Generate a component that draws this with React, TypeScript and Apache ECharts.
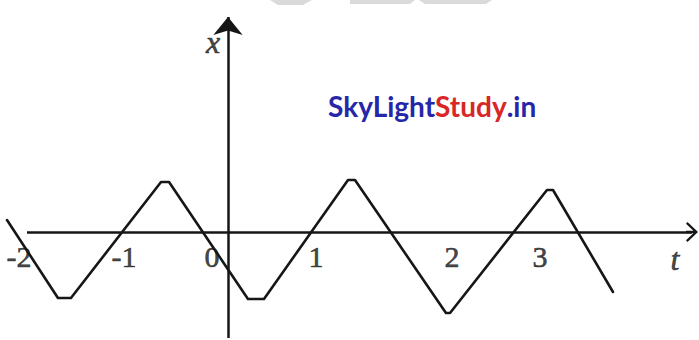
import { useEffect, useRef } from "react";
import * as echarts from "echarts";

// Displacement x(t) of the oscillation: corner points of the broken-line graph
const waveT = [-2.125, -1.635, -1.51, -0.644, -0.567, 0.192, 0.346, 1.154, 1.221, 2.096, 2.135, 3.067, 3.125, 3.702];
const waveX = [0.24, -1.32, -1.32, 1.0, 1.0, -1.34, -1.34, 1.04, 1.04, -1.62, -1.62, 0.84, 0.84, -1.2];

// Hand-placed tick labels along the t axis
const tickLabels = ["-2", "-1", "0", "1", "2", "3"];
const tickPositions = [-2.01, -1.0, -0.154, 0.846, 2.154, 3.0];

// Axis names and where they sit (t, x)
const axisNames = ["t", "x"];
const axisNameT = [4.298, -0.144];
const axisNameX = [-0.54, 3.8];

// Visible range of the plane
const tMin = -2.1923;
const tMax = 4.5288;
const xMin = -2.16;
const xMax = 4.64;

// Drawn axes: start and arrow-head centre
const tAxisFrom = -1.9327;
const tAxisTo = 4.4615;
const xAxisFrom = -2.12;
const xAxisTo = 4.3;

const INK = "#161616";
const SERIF = "'Liberation Serif', 'Times New Roman', serif";
const SANS = "Lato, 'Noto Sans', sans-serif";

export default function App() {
  const ref = useRef<HTMLDivElement>(null);

  useEffect(() => {
    document.body.style.margin = "0";
    document.body.style.overflow = "hidden";
    if (!ref.current) return;
    const chart = echarts.init(ref.current, null, { renderer: "svg" });

    // open chevron with a short stem so the axis line reaches its apex
    const chevron =
      "path://M10,0 L20,10.5 L18.2,12 L11.2,4.6 L11.2,12 L8.8,12 L8.8,4.6 L1.8,12 L0,10.5 Z";

    const hiddenAxis = {
      type: "value",
      axisLine: { show: false },
      axisTick: { show: false },
      axisLabel: { show: false },
      splitLine: { show: false },
    };

    chart.setOption({
      animation: false,
      backgroundColor: "#ffffff",
      grid: { left: 0, right: 0, top: 0, bottom: 0, containLabel: false },
      xAxis: { ...hiddenAxis, min: tMin, max: tMax },
      yAxis: { ...hiddenAxis, min: xMin, max: xMax },
      series: [
        {
          type: "line",
          data: waveT.map((t, i) => [t, waveX[i]]),
          symbol: "none",
          clip: false,
          silent: true,
          lineStyle: { color: INK, width: 2.6, join: "round", cap: "round" },
          markLine: {
            silent: true,
            animation: false,
            label: { show: false },
            emphasis: { disabled: true },
            lineStyle: { color: INK, width: 2.5, type: "solid" },
            data: [
              [
                { coord: [tAxisFrom, 0], symbol: "none" },
                { coord: [tAxisTo, 0], symbol: chevron, symbolSize: [20, 12] },
              ],
              [
                { coord: [0, xAxisFrom], symbol: "none" },
                { coord: [0, xAxisTo], symbol: "arrow", symbolSize: [22, 18] },
              ],
            ],
          },
        },
        {
          type: "scatter",
          data: tickLabels.map((name, i) => ({ name, value: [tickPositions[i], 0] })),
          symbolSize: 1,
          itemStyle: { color: "rgba(0,0,0,0)" },
          clip: false,
          silent: true,
          label: {
            show: true,
            position: "inside",
            offset: [0, 24],
            formatter: "{b}",
            color: INK,
            fontFamily: SERIF,
            fontSize: 30,
            textBorderColor: INK,
            textBorderWidth: 0.6,
          },
        },
        {
          type: "scatter",
          data: axisNames.map((name, i) => ({ name, value: [axisNameT[i], axisNameX[i]] })),
          symbolSize: 1,
          itemStyle: { color: "rgba(0,0,0,0)" },
          clip: false,
          silent: true,
          label: {
            show: true,
            position: "inside",
            formatter: "{b}",
            color: INK,
            fontFamily: SERIF,
            fontStyle: "italic",
            fontSize: 32,
            textBorderColor: INK,
            textBorderWidth: 0.6,
          },
        },
      ],
      graphic: [
        {
          type: "polygon",
          silent: true,
          shape: { points: [[270, 0], [312, 0], [303, 5], [278, 5]] },
          style: { fill: "#dadada" },
        },
        {
          type: "polygon",
          silent: true,
          shape: { points: [[350, 0], [415, 0], [410, 4], [350, 4]] },
          style: { fill: "#dadada" },
        },
        {
          type: "polygon",
          silent: true,
          shape: { points: [[419, 0], [492, 0], [486, 4], [425, 4]] },
          style: { fill: "#dadada" },
        },
        {
          type: "text",
          left: 328,
          top: 92,
          silent: true,
          style: {
            text: "{a|SkyLight}{b|Study}{a|.in}",
            font: `bold 28px ${SANS}`,
            rich: {
              a: { fill: "#2626a8", fontSize: 28, fontWeight: "bold", fontFamily: SANS },
              b: { fill: "#d92626", fontSize: 28, fontWeight: "bold", fontFamily: SANS },
            },
          },
        },
      ],
    });

    return () => chart.dispose();
  }, []);

  return <div ref={ref} style={{ width: 699, height: 340 }} />;
}
